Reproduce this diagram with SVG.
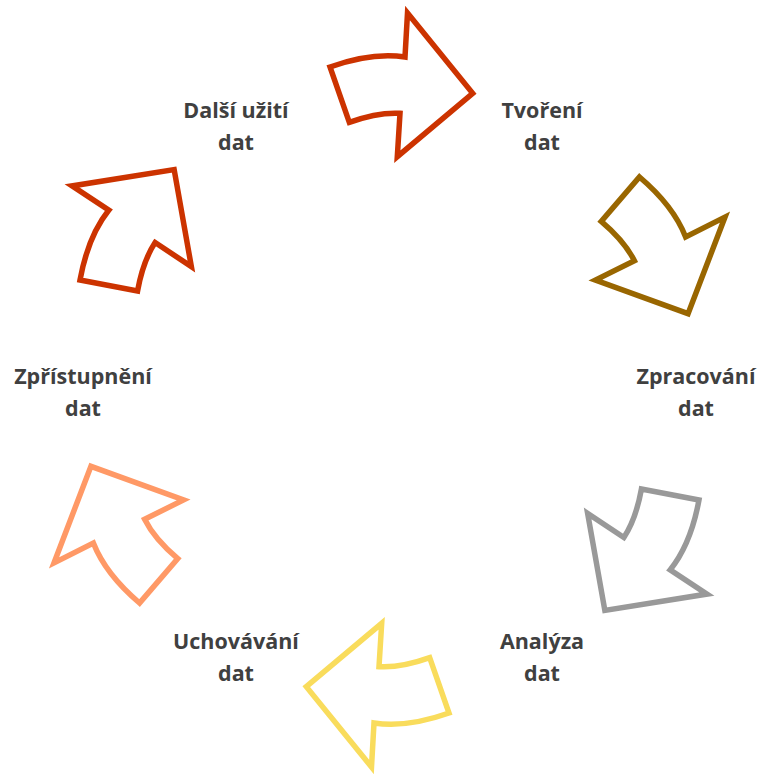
<svg xmlns="http://www.w3.org/2000/svg" width="759" height="774" viewBox="0 0 759 774">
<style>
.a{fill:#fff;stroke-width:5.5;stroke-linejoin:miter;stroke-miterlimit:10}
.t{font-family:"Open Sans","Noto Sans",sans-serif;font-weight:700;font-size:21.5px;fill:#404040;text-anchor:middle}
</style>
<defs>
<path id="arr" d="M330,67 Q372,52 405,57 L407.5,13 L472.7,93.3 L397.3,156.7 L400,113.3 Q378,112 349.3,122.3 Z"/>
</defs>
<rect width="759" height="774" fill="#fff"/>
<g id="connectors">
<use href="#arr" class="a" stroke="#CC3300"/>
<use href="#arr" class="a" stroke="#996600" transform="rotate(60 389.5 390)"/>
<use href="#arr" class="a" stroke="#999999" transform="rotate(120 389.5 390)"/>
<use href="#arr" class="a" stroke="#F9DC5C" transform="rotate(180 389.5 390)"/>
<use href="#arr" class="a" stroke="#FF9966" transform="rotate(240 389.5 390)"/>
<use href="#arr" class="a" stroke="#CC3300" transform="rotate(300 389.5 390)"/>
</g>
<g id="n1"><text class="t" x="542" y="118">Tvoření</text><text class="t" x="542" y="150">dat</text></g>
<g id="n2"><text class="t" x="696" y="384">Zpracování</text><text class="t" x="696" y="416">dat</text></g>
<g id="n3"><text class="t" x="542" y="649">Analýza</text><text class="t" x="542" y="681">dat</text></g>
<g id="n4"><text class="t" x="236" y="649">Uchovávání</text><text class="t" x="236" y="681">dat</text></g>
<g id="n5"><text class="t" x="83" y="384">Zpřístupnění</text><text class="t" x="83" y="416">dat</text></g>
<g id="n6"><text class="t" x="236" y="118">Další užití</text><text class="t" x="236" y="150">dat</text></g>
</svg>
